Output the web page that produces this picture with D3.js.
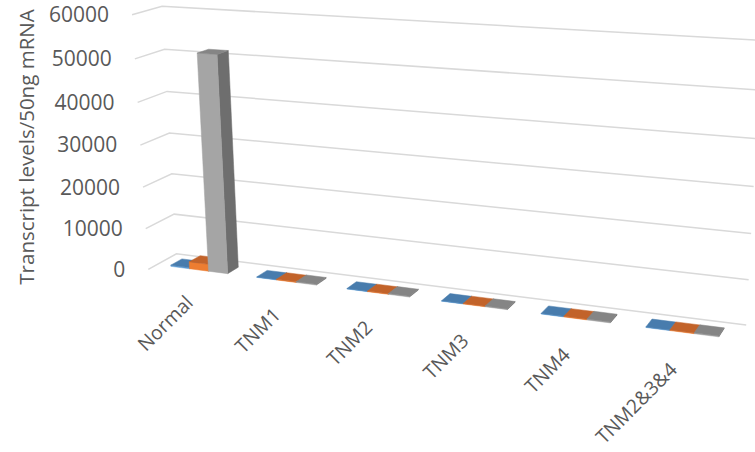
<!DOCTYPE html>
<html>
<head>
<meta charset="utf-8">
<script src="https://cdn.jsdelivr.net/npm/d3@7"></script>
<style>
  body { margin: 0; background: #fff; }
  svg { display: block; }
  text { font-family: "Open Sans", "Noto Sans", sans-serif; fill: #595959; }
</style>
</head>
<body>
<svg id="chart" width="755" height="452"></svg>
<script>
// ---- data ----
const categories = ["Normal", "TNM1", "TNM2", "TNM3", "TNM4", "TNM2&3&4"];
const series1 = [300, 120, 110, 100, 130, 120];
const series2 = [1700, 150, 140, 130, 160, 150];
const series3 = [51500, 200, 180, 170, 210, 190];
const yTicks = [0, 10000, 20000, 30000, 40000, 50000, 60000];
const yMax = 60000;
const axisTitle = "Transcript levels/50ng mRNA";

// ---- shading for each series: front, right side, top ----
const palettes = [
  { front: "#5b9bd5", side: "#41719c", top: "#487cad" },
  { front: "#ed7d31", side: "#ad5a22", top: "#c2632a" },
  { front: "#a5a5a5", side: "#6e6e6e", top: "#858585" }
];

// ---- 3-D plot box (world units) ----
const W = 373.1, H = 162.7;
const slot = W / categories.length;
const barW = slot / 4.5;          // three bars + 150% gap
const D = barW * 2.5;             // bar depth + 150% gap depth

// ---- camera ----
const deg = Math.PI / 180;
const yaw = 23.2 * deg, pitch = 17.0 * deg, roll = 0.76 * deg;
const focal = 1570, cx = 406, cy = 232;
const originScreen = [148.3, 269.3], originDepth = 1000;
const T = [(originScreen[0] - cx) / focal * originDepth,
           (originScreen[1] - cy) / focal * originDepth,
           originDepth];

function rotate(X, Y, Z) {
  const ca = Math.cos(yaw), sa = Math.sin(yaw);
  const cb = Math.cos(pitch), sb = Math.sin(pitch);
  const cg = Math.cos(roll), sg = Math.sin(roll);
  const x0 = ca * X + sa * Z;
  const y0 = sa * sb * X - cb * Y - ca * sb * Z;
  const z0 = -sa * cb * X - sb * Y + ca * cb * Z;
  return [cg * x0 + sg * y0, -sg * x0 + cg * y0, z0];
}
function project(X, Y, Z) {
  const r = rotate(X, Y, Z);
  const x = r[0] + T[0], y = r[1] + T[1], z = r[2] + T[2];
  return [cx + focal * x / z, cy + focal * y / z];
}

// ---- scales ----
const xBand = d3.scaleBand().domain(categories).range([0, W]);
const seriesBand = d3.scaleBand().domain([0, 1, 2])
  .range([slot / 2 - 1.5 * barW, slot / 2 + 1.5 * barW]);
const yScale = d3.scaleLinear().domain([0, yMax]).range([0, H]);

const svg = d3.select("#chart");
const line = d3.line();

// ---- gridlines on side wall and back wall ----
svg.append("g").selectAll("path").data(yTicks).join("path")
  .attr("d", v => {
    const h = yScale(v);
    return line([project(0, h, 0), project(0, h, D), project(W, h, D)]);
  })
  .attr("fill", "none")
  .attr("stroke", "#d9d9d9")
  .attr("stroke-width", 1.5);

// ---- value axis labels ----
svg.append("g").selectAll("text").data(yTicks).join("text")
  .attr("x", v => project(0, yScale(v), 0)[0] - 23)
  .attr("y", v => project(0, yScale(v), 0)[1])
  .attr("dy", "0.35em")
  .attr("text-anchor", "end")
  .attr("font-size", 21)
  .text(v => v);

// ---- axis title ----
svg.append("text")
  .attr("transform", "translate(34,147) rotate(-90)")
  .attr("text-anchor", "middle")
  .attr("font-size", 20.5)
  .text(axisTitle);

// ---- bars, far (left) to near (right) ----
const values = [series1, series2, series3];
const bars = [];
categories.forEach((c, i) => {
  values.forEach((s, j) => {
    const x0 = xBand(c) + seriesBand(j), x1 = x0 + barW;
    const z0 = (D - barW) / 2, z1 = z0 + barW;
    const h = yScale(s[i]);
    bars.push({ j, x0, x1, z0, z1, h });
  });
});
const gBars = svg.append("g");
bars.forEach(b => {
  const pal = palettes[b.j];
  const faces = [
    { pts: [[b.x1, 0, b.z0], [b.x1, 0, b.z1], [b.x1, b.h, b.z1], [b.x1, b.h, b.z0]], fill: pal.side },
    { pts: [[b.x0, 0, b.z0], [b.x1, 0, b.z0], [b.x1, b.h, b.z0], [b.x0, b.h, b.z0]], fill: pal.front },
    { pts: [[b.x0, b.h, b.z0], [b.x1, b.h, b.z0], [b.x1, b.h, b.z1], [b.x0, b.h, b.z1]], fill: pal.top }
  ];
  faces.forEach(f => {
    gBars.append("path")
      .attr("d", line(f.pts.map(p => project(p[0], p[1], p[2]))) + "Z")
      .attr("fill", f.fill)
      .attr("stroke", f.fill)
      .attr("stroke-width", 0.5);
  });
});

// ---- category labels ----
svg.append("g").selectAll("text").data(categories).join("text")
  .attr("transform", c => {
    const p = project(xBand(c) + slot / 2, -19.5, 0);
    return `translate(${p[0] + 2},${p[1]}) rotate(-45)`;
  })
  .attr("text-anchor", "end")
  .attr("font-size", 19.5)
  .text(c => c);
</script>
</body>
</html>
